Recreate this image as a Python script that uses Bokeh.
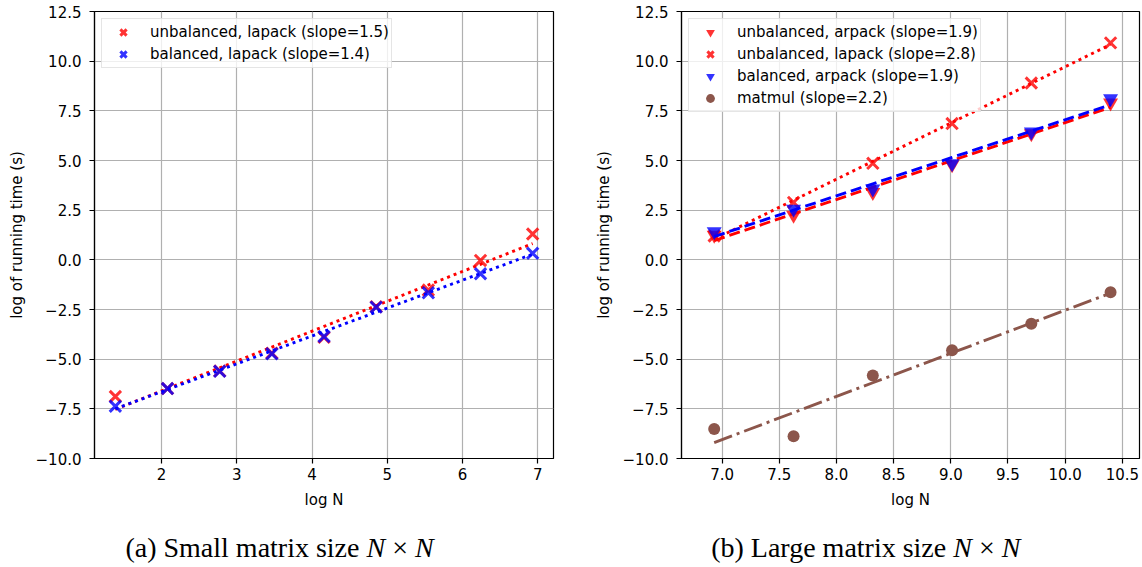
import numpy as np
from bokeh.plotting import figure
from bokeh.models import (Range1d, FixedTicker, CustomJSTickFormatter, Legend, LegendItem)
from bokeh.layouts import column, row
from bokeh.embed import file_html
from bokeh.resources import INLINE
from bokeh.core.properties import value

# ---------------- data ----------------
small_logN = [1.386, 2.079, 2.773, 3.466, 4.159, 4.852, 5.545, 6.238, 6.931]
small_unbal_lapack = [-6.88, -6.48, -5.60, -4.70, -3.90, -2.36, -1.52, -0.03, 1.30]
small_bal_lapack = [-7.37, -6.48, -5.61, -4.73, -3.86, -2.38, -1.66, -0.70, 0.33]

large_logN = [6.931, 7.625, 8.318, 9.011, 9.704, 10.397]
large_unbal_arpack = [1.25, 2.25, 3.40, 4.80, 6.35, 7.90]
large_unbal_lapack = [1.20, 2.89, 4.86, 6.86, 8.90, 10.92]
large_bal_arpack = [1.42, 2.55, 3.57, 4.85, 6.44, 8.12]
large_matmul = [-8.51, -8.88, -5.82, -4.55, -3.22, -1.63]

y_ticks = [-10.0, -7.5, -5.0, -2.5, 0.0, 2.5, 5.0, 7.5, 10.0, 12.5]
small_x_ticks = [2, 3, 4, 5, 6, 7]
large_x_ticks = [7.0, 7.5, 8.0, 8.5, 9.0, 9.5, 10.0, 10.5]

small_labels = ["unbalanced, lapack (slope=1.5)", "balanced, lapack (slope=1.4)"]
large_labels = ["unbalanced, arpack (slope=1.9)", "unbalanced, lapack (slope=2.8)",
                "balanced, arpack (slope=1.9)", "matmul (slope=2.2)"]
x_label = "log N"
y_label = "log of running time (s)"

RED = "red"
BLUE = "blue"
BROWN = "#8c564b"
FONT = "DejaVu Sans"


def fit(x, y):
    c = np.polyfit(x, y, 1)
    return list(np.polyval(c, x))


def make_fig(width, border_left, border_right, xr, x_ticks, x_fmt):
    p = figure(width=width, height=520, x_range=Range1d(*xr), y_range=Range1d(-10, 12.5),
               output_backend="svg", toolbar_location=None, tools="",
               min_border_left=border_left, min_border_right=border_right,
               min_border_top=11, min_border_bottom=62)
    p.outline_line_color = "black"
    p.outline_line_width = 1.2
    p.background_fill_color = "white"
    p.border_fill_color = "white"
    for ax in (p.xaxis[0], p.yaxis[0]):
        ax.axis_line_color = "black"
        ax.axis_line_width = 1.2
        ax.major_tick_line_color = "black"
        ax.major_tick_line_width = 1.2
        ax.major_tick_out = 5
        ax.major_tick_in = 0
        ax.minor_tick_line_color = None
        ax.major_label_text_font = FONT
        ax.major_label_text_font_size = "15px"
        ax.major_label_text_color = "black"
        ax.axis_label_text_font = FONT
        ax.axis_label_text_font_size = "15px"
        ax.axis_label_text_font_style = "normal"
        ax.axis_label_text_color = "black"
    p.xaxis.ticker = FixedTicker(ticks=x_ticks)
    p.yaxis.ticker = FixedTicker(ticks=y_ticks)
    p.xaxis.formatter = CustomJSTickFormatter(code="return tick.toFixed(%d);" % x_fmt)
    p.yaxis.formatter = CustomJSTickFormatter(code="return tick.toFixed(1).replace('-', '\\u2212');")
    p.xaxis.major_label_standoff = 4
    p.xaxis.axis_label_standoff = 8
    p.yaxis.major_label_standoff = 8
    p.yaxis.axis_label_standoff = 7
    p.xaxis.axis_label = x_label
    p.yaxis.axis_label = y_label
    for g in (p.xgrid[0], p.ygrid[0]):
        g.grid_line_color = "#b0b0b0"
        g.grid_line_width = 1.2
    return p


def make_legend(items, label_w):
    lg = Legend(items=items, location="top_left")
    lg.label_text_font = FONT
    lg.label_text_font_size = "15px"
    lg.label_text_color = "black"
    lg.glyph_width = 38
    lg.glyph_height = 22
    lg.label_height = 22
    lg.label_width = label_w
    lg.label_standoff = 8
    lg.spacing = 0
    lg.padding = 2
    lg.margin = 7
    lg.border_line_color = "#cccccc"
    lg.border_line_width = 1.2
    lg.background_fill_color = "white"
    lg.background_fill_alpha = 0.8
    return lg


X_SIZE = 16
TRI_SIZE = 15

# ---------------- (a) small ----------------
pa = make_fig(573, 94, 20, (1.109, 7.208), small_x_ticks, 0)
ra1 = pa.scatter(small_logN, small_unbal_lapack, marker="x", size=X_SIZE, line_color=RED,
                 line_width=3, line_alpha=0.8)
pa.line(small_logN, fit(small_logN, small_unbal_lapack), line_color=RED, line_width=2.9,
        line_dash="3 4")
ra2 = pa.scatter(small_logN, small_bal_lapack, marker="x", size=X_SIZE, line_color=BLUE,
                 line_width=3, line_alpha=0.8)
pa.line(small_logN, fit(small_logN, small_bal_lapack), line_color=BLUE, line_width=2.9,
        line_dash="3 4")
pa.add_layout(make_legend([LegendItem(label=small_labels[0], renderers=[ra1]),
                           LegendItem(label=small_labels[1], renderers=[ra2])], 238))

# ---------------- (b) large ----------------
pb = make_fig(568, 108, 2, (6.645, 10.65), large_x_ticks, 1)
rb1 = pb.scatter(large_logN, large_unbal_arpack, marker="inverted_triangle", size=TRI_SIZE,
                 fill_color=RED, fill_alpha=0.8, line_color=None)
pb.line(large_logN, fit(large_logN, large_unbal_arpack), line_color=RED, line_width=2.9,
        line_dash="11 5")
rb2 = pb.scatter(large_logN, large_unbal_lapack, marker="x", size=X_SIZE, line_color=RED,
                 line_width=3, line_alpha=0.8)
pb.line(large_logN, fit(large_logN, large_unbal_lapack), line_color=RED, line_width=2.9,
        line_dash="3 4")
rb3 = pb.scatter(large_logN, large_bal_arpack, marker="inverted_triangle", size=TRI_SIZE,
                 fill_color=BLUE, fill_alpha=0.8, line_color=None)
pb.line(large_logN, fit(large_logN, large_bal_arpack), line_color=BLUE, line_width=2.9,
        line_dash="11 5")
rb4 = pb.scatter(large_logN, large_matmul, marker="circle", size=12, fill_color=BROWN,
                 line_color=None)
pb.line(large_logN, fit(large_logN, large_matmul), line_color=BROWN, line_width=2.9,
        line_dash="19 5 3 5")
pb.add_layout(make_legend([LegendItem(label=large_labels[i], renderers=[r])
                           for i, r in enumerate([rb1, rb2, rb3, rb4])], 240))

# ---------------- captions ----------------
CAP_W, CAP_H = 1141, 47
cap = figure(width=CAP_W, height=CAP_H, x_range=Range1d(0, CAP_W), y_range=Range1d(CAP_H, 0),
             output_backend="svg", toolbar_location=None, tools="", min_border=0,
             x_axis_location=None, y_axis_location=None)
cap.xgrid.visible = False
cap.ygrid.visible = False
cap.outline_line_color = None
cap.background_fill_color = "white"
cap.border_fill_color = "white"

FS = 28
captions = [("(a) Small matrix size", 279, 8.36), ("(b) Large matrix size", 865, 8.414)]
w_sp, w_N, w_X = 0.25 * FS, 0.667 * FS, 1.064 * FS
base_y = 27
for txt, c, em in captions:
    w1 = em * FS
    total = w1 + w_sp + w_N + w_X + w_N
    a = c - total / 2 + w1
    cap.text(x=[a], y=[base_y], text=[txt], text_font=value("Liberation Serif"),
             text_font_size="%dpx" % FS, text_align="right", text_baseline="alphabetic",
             text_color="black")
    cap.text(x=[a + w_sp, a + w_sp + w_N + w_X], y=[base_y, base_y], text=["N", "N"],
             text_font=value("Liberation Serif"), text_font_size="%dpx" % FS,
             text_font_style="italic", text_align="left", text_baseline="alphabetic",
             text_color="black")
    cap.text(x=[a + w_sp + w_N + w_X / 2], y=[base_y], text=["\u00d7"],
             text_font=value("Liberation Serif"), text_font_size="%dpx" % FS,
             text_align="center", text_baseline="alphabetic", text_color="black")

layout = column(row(pa, pb), cap)
open("out.html", "w").write(file_html(layout, INLINE))
